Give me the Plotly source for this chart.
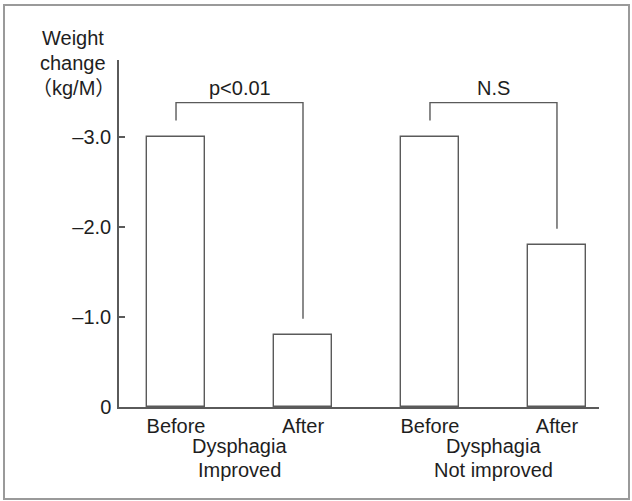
import plotly.graph_objects as go

# ---- data ----
categories = ["Before", "After", "Before", "After"]
weight_change = [-3.0, -0.8, -3.0, -1.8]
group_labels = ["Dysphagia<br>Improved", "Dysphagia<br>Not improved"]
significance = ["p<0.01", "N.S"]
ytick_vals = [0, -1.0, -2.0, -3.0]
ytick_text = ["0", "–1.0", "–2.0", "–3.0"]

W, H = 632, 501
L, R, T, B = 119, 33, 60, 94
PW, PH = W - L - R, H - T - B

def px_x(px):
    return (px - L) / PW

def px_y(py):
    return (H - B - py) / PH

xpos = list(range(len(categories)))
line_col = "#5a5a5a"
txt_col = "#1e1e1e"
font_family = "Liberation Sans, Arial, Noto Sans CJK JP, sans-serif"
FS = 20

fig = go.Figure()
fig.add_trace(go.Bar(
    x=xpos, y=weight_change, width=0.457,
    marker=dict(color="white", line=dict(color=line_col, width=1.4)),
    showlegend=False, hoverinfo="skip",
))

# significance brackets
bracket_top = -3.38
gap = 0.18
for g, label in enumerate(significance):
    i0, i1 = 2 * g, 2 * g + 1
    fig.add_trace(go.Scatter(
        x=[xpos[i0], xpos[i0], xpos[i1], xpos[i1]],
        y=[weight_change[i0] - gap, bracket_top, bracket_top, weight_change[i1] - gap],
        mode="lines", line=dict(color=line_col, width=1.4),
        showlegend=False, hoverinfo="skip",
    ))
    fig.add_annotation(x=(xpos[i0] + xpos[i1]) / 2, y=bracket_top, yanchor="bottom",
                       yshift=2, text=label, showarrow=False,
                       font=dict(size=FS, color=txt_col))
    dys, sub = group_labels[g].split("<br>")
    fig.add_annotation(x=(xpos[i0] + xpos[i1]) / 2, xref="x", y=px_y(446), yref="paper",
                       yanchor="middle", text=dys, showarrow=False,
                       font=dict(size=FS, color=txt_col))
    fig.add_annotation(x=(xpos[i0] + xpos[i1]) / 2, xref="x", y=px_y(470), yref="paper",
                       yanchor="middle", text=sub, showarrow=False,
                       font=dict(size=FS, color=txt_col))

# y axis title
for txt, py in [("Weight", 38), ("change", 63), ("（kg/M）", 88)]:
    fig.add_annotation(x=px_x(73), xref="paper", y=px_y(py), yref="paper",
                       xanchor="center", yanchor="middle", text=txt, showarrow=False,
                       font=dict(size=FS, color=txt_col))

# outer frame
fig.add_shape(type="rect", xref="paper", yref="paper",
              x0=px_x(4), x1=px_x(629), y0=px_y(499), y1=px_y(5),
              line=dict(color="#9a9a9a", width=2), layer="below")

fig.update_layout(
    width=W, height=H,
    margin=dict(l=L, r=R, t=T, b=B, pad=0),
    paper_bgcolor="white", plot_bgcolor="white",
    font=dict(family=font_family, size=FS, color=txt_col),
    bargap=0,
    xaxis=dict(range=[-0.449, 3.331], tickvals=xpos, ticktext=categories,
               showline=True, linecolor=line_col, linewidth=1.5, ticks="",
               showgrid=False, zeroline=False, ticklabelstandoff=0,
               tickfont=dict(size=FS, color=txt_col)),
    yaxis=dict(range=[0, -3.853], tickvals=ytick_vals, ticktext=ytick_text,
               showline=True, linecolor=line_col, linewidth=1.5,
               ticks="inside", ticklen=6, tickcolor=line_col, tickwidth=1.5,
               showgrid=False, zeroline=False, ticklabelstandoff=2,
               tickfont=dict(size=FS, color=txt_col)),
)

fig.write_html("out.html")
